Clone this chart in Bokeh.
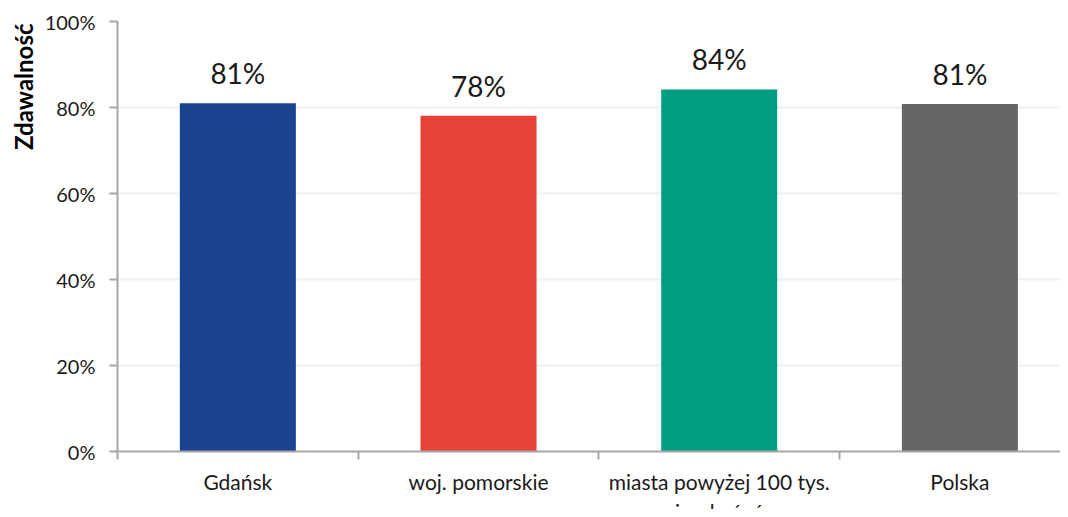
from bokeh.plotting import figure
from bokeh.layouts import column
from bokeh.models import ColumnDataSource, FixedTicker, Range1d, PrintfTickFormatter, Title
from bokeh.core.properties import value
from bokeh.embed import file_html
from bokeh.resources import INLINE

categories = ["Gdańsk", "woj. pomorskie", "miasta powyżej 100 tys.\nmieszkańców", "Polska"]
pass_rates = [81.0, 78.1, 84.2, 80.8]
value_labels = ["81%", "78%", "84%", "81%"]
colors = ["#1A428F", "#E8413A", "#009E7E", "#666666"]
y_ticks = [0, 20, 40, 60, 80, 100]
y_label = "Zdawalność"

FONT = "Lato"
AXIS_COLOR = "#A6A6A6"
TEXT_COLOR = "#1a1a1a"

x_centers = [i + 0.5 for i in range(len(categories))]
boundaries = [float(i) for i in range(len(categories) + 1)]
src = ColumnDataSource(dict(x=x_centers, top=pass_rates, label=value_labels,
                            color=colors, cat=categories))

x_range = Range1d(0, 3.918)

# ---- main chart ----
p = figure(width=1060, height=469, x_range=x_range, y_range=Range1d(0, 100),
           output_backend="svg", toolbar_location=None,
           min_border_left=117, min_border_top=21, min_border_bottom=18, min_border_right=0)
p.outline_line_color = None
p.background_fill_color = "white"
p.border_fill_color = "white"

p.vbar(x="x", top="top", bottom=0, width=0.482, fill_color="color", line_color=None, source=src)
p.text(x="x", y="top", text="label", source=src, text_align="center", text_baseline="alphabetic",
       y_offset=-30, text_font=value(FONT), text_font_size="28px", text_color=TEXT_COLOR)

p.xgrid.visible = False
p.ygrid.grid_line_color = "#F0F0F0"
p.ygrid.grid_line_width = 2

ya = p.yaxis[0]
ya.ticker = FixedTicker(ticks=y_ticks)
ya.formatter = PrintfTickFormatter(format="%d%%")
ya.major_tick_out = 8
ya.major_tick_in = 0
ya.minor_tick_line_color = None
ya.axis_line_color = AXIS_COLOR
ya.axis_line_width = 2
ya.major_tick_line_color = AXIS_COLOR
ya.major_tick_line_width = 2
ya.major_label_standoff = 14
ya.major_label_text_font = FONT
ya.major_label_text_font_size = "20px"
ya.major_label_text_color = TEXT_COLOR

p.add_layout(Title(text=y_label, align="right", text_font=FONT, text_font_style="bold",
                   text_font_size="24px", text_color="#000000", standoff=8, offset=2), "left")

xa = p.xaxis[0]
xa.ticker = FixedTicker(ticks=[], minor_ticks=boundaries)
xa.major_tick_line_color = None
xa.major_tick_out = 0
xa.major_tick_in = 0
xa.minor_tick_line_color = AXIS_COLOR
xa.minor_tick_line_width = 2
xa.minor_tick_out = 8
xa.minor_tick_in = 0
xa.axis_line_color = AXIS_COLOR
xa.axis_line_width = 2

# ---- category label strip (shares the x scale) ----
q = figure(width=1060, height=40, x_range=x_range, y_range=Range1d(0, 1),
           output_backend="svg", toolbar_location=None,
           x_axis_location=None, y_axis_location=None,
           min_border_left=117, min_border_top=0, min_border_bottom=0, min_border_right=0)
q.outline_line_color = None
q.grid.visible = False
q.background_fill_color = "white"
q.border_fill_color = "white"
q.text(x="x", y=1, text="cat", source=src, text_align="center", text_baseline="top",
       y_offset=-1, text_font=value(FONT), text_font_size="21px", text_color=TEXT_COLOR,
       text_line_height=1.2)

layout = column(p, q, spacing=0)
open("out.html", "w").write(file_html(layout, INLINE))
